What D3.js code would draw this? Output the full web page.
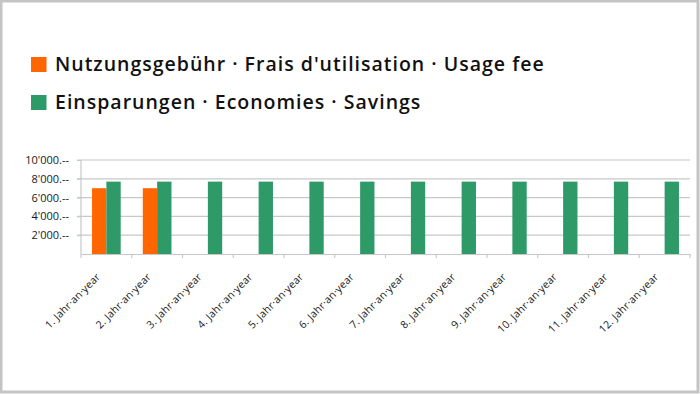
<!DOCTYPE html>
<html><head><meta charset="utf-8">
<script src="https://cdn.jsdelivr.net/npm/d3@7"></script>
<style>
html,body{margin:0;padding:0;background:#fff;}
svg{display:block;}
</style></head>
<body>
<svg id="c" width="700" height="394"></svg>
<script>
const categories = ["1. Jahr·an·year","2. Jahr·an·year","3. Jahr·an·year","4. Jahr·an·year","5. Jahr·an·year","6. Jahr·an·year","7. Jahr·an·year","8. Jahr·an·year","9. Jahr·an·year","10. Jahr·an·year","11. Jahr·an·year","12. Jahr·an·year"];
const usageFee = [7000,7000,0,0,0,0,0,0,0,0,0,0];
const savings = [7700,7700,7700,7700,7700,7700,7700,7700,7700,7700,7700,7700];
const seriesNames = ["Nutzungsgebühr · Frais d'utilisation · Usage fee","Einsparungen · Economies · Savings"];
const seriesColors = ["#ff6600","#2e9a68"];
const yTicks = [2000,4000,6000,8000,10000];
const yTickLabels = ["2'000.--","4'000.--","6'000.--","8'000.--","10'000.--"];

(function(){
const svg = d3.select("#c");
svg.append("rect").attr("x",1).attr("y",1).attr("width",697).attr("height",391)
  .attr("fill","#fff").attr("stroke","#c4c4c4").attr("stroke-width",3);

const pL=81, pR=690, pT=160, pB=254;
const x = d3.scaleBand().domain(categories).range([pL,pR]).paddingInner(0).paddingOuter(0);
const y = d3.scaleLinear().domain([0,10000]).range([pB,pT]);
const inner = d3.scaleBand().domain([0,1]).range([0,x.bandwidth()]).paddingInner(0).paddingOuter(0.77);

svg.append("g").selectAll("line").data(yTicks).join("line")
  .attr("x1",pL-4).attr("x2",pR).attr("y1",d=>y(d)).attr("y2",d=>y(d))
  .attr("stroke","#c8c8c8").attr("stroke-width",1.2);

const yAxis = svg.append("g").attr("transform",`translate(${pL},0)`)
  .call(d3.axisLeft(y).tickValues(yTicks).tickSize(4).tickPadding(8).tickFormat((d,i)=>yTickLabels[i]));
yAxis.select(".domain").attr("stroke","#c8c8c8").attr("stroke-width",1.2).attr("d",`M0,${pB}V${pT}`);
yAxis.selectAll(".tick line").attr("stroke","#c8c8c8");
yAxis.selectAll("text").attr("font-family","Open Sans, sans-serif").attr("font-size","11px").attr("fill","#1a1a1a");

[usageFee, savings].forEach((vals,si)=>{
  svg.append("g").selectAll("rect").data(vals).join("rect")
    .attr("x",(d,i)=>x(categories[i])+inner(si))
    .attr("width",inner.bandwidth())
    .attr("y",d=>y(d)).attr("height",d=>pB-y(d))
    .attr("fill",seriesColors[si]);
});

const xAxis = svg.append("g").attr("transform",`translate(0,${pB})`)
  .call(d3.axisBottom(x).tickSize(0).tickPadding(0));
xAxis.select(".domain").attr("stroke","#c8c8c8").attr("stroke-width",1.2);
const bounds = categories.map(c=>x(c)).concat([pR]);
xAxis.selectAll("line.bt").data(bounds).join("line").attr("class","bt")
  .attr("x1",d=>d).attr("x2",d=>d).attr("y1",0).attr("y2",4).attr("stroke","#c8c8c8").attr("stroke-width",1.2);
xAxis.selectAll(".tick text")
  .attr("font-family","Open Sans, sans-serif").attr("font-size","10.5px").attr("fill","#1a1a1a")
  .attr("letter-spacing","0.2px")
  .attr("text-anchor","end")
  .attr("transform","translate(-8,21) rotate(-45)")
  .attr("dy","0.35em");

const leg = svg.append("g");
const legY = [71,109];
seriesNames.forEach((n,i)=>{
  leg.append("rect").attr("x",31).attr("y",legY[i]-14).attr("width",15.5).attr("height",15).attr("fill",seriesColors[i]);
  leg.append("text").attr("x",55).attr("y",legY[i]).text(n)
    .attr("font-family","Open Sans, sans-serif").attr("font-weight",600).attr("font-size","19.5px")
    .attr("letter-spacing","1px").attr("fill","#111");
});
})();
</script>
</body></html>
